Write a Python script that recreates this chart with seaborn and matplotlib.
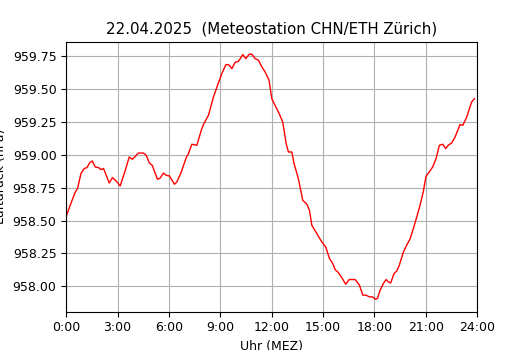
import matplotlib
matplotlib.use("Agg")
import matplotlib.pyplot as plt
import seaborn as sns
import pandas as pd

hours = [0.00, 0.23, 0.53, 0.66, 0.86, 1.05, 1.21, 1.36, 1.52, 1.69, 1.89, 2.03,
         2.18, 2.51, 2.70, 2.92, 3.15, 3.45, 3.68, 3.87, 4.03, 4.22, 4.51, 4.67,
         4.86, 5.02, 5.33, 5.49, 5.68, 5.84, 6.03, 6.32, 6.46, 6.70, 7.01, 7.14,
         7.34, 7.63, 7.92, 8.06, 8.31, 8.60, 8.89, 9.09, 9.33, 9.48, 9.68, 9.87,
         10.06, 10.32, 10.49, 10.69, 10.84, 11.04, 11.23, 11.43, 11.62, 11.85,
         12.01, 12.20, 12.46, 12.65, 12.85, 12.98, 13.18, 13.31, 13.56, 13.82,
         14.06, 14.21, 14.35, 14.64, 14.93, 15.16, 15.38, 15.57, 15.71, 15.90,
         16.10, 16.33, 16.53, 16.88, 17.13, 17.33, 17.52, 17.71, 17.91, 18.04,
         18.18, 18.34, 18.53, 18.69, 18.82, 18.96, 19.15, 19.31, 19.46, 19.70,
         19.89, 20.09, 20.28, 20.48, 20.67, 20.86, 21.02, 21.21, 21.41, 21.61,
         21.80, 22.00, 22.17, 22.32, 22.52, 22.72, 23.01, 23.17, 23.40, 23.59,
         23.69, 23.85]
pressure = [958.533, 958.616, 958.718, 958.744, 958.858, 958.896, 958.903, 958.938,
            958.954, 958.908, 958.903, 958.888, 958.896, 958.786, 958.827, 958.801,
            958.763, 958.883, 958.984, 958.966, 958.989, 959.014, 959.014, 958.997,
            958.938, 958.921, 958.814, 958.824, 958.862, 958.845, 958.839, 958.776,
            958.794, 958.862, 958.979, 959.010, 959.081, 959.073, 959.200, 959.243,
            959.301, 959.441, 959.547, 959.619, 959.687, 959.687, 959.657, 959.705,
            959.712, 959.763, 959.733, 959.766, 959.766, 959.733, 959.720, 959.669,
            959.631, 959.568, 959.428, 959.377, 959.309, 959.250, 959.086, 959.022,
            959.022, 958.934, 958.820, 958.654, 958.624, 958.578, 958.464, 958.401,
            958.337, 958.299, 958.211, 958.173, 958.127, 958.104, 958.066, 958.015,
            958.051, 958.051, 958.008, 957.932, 957.932, 957.919, 957.919, 957.901,
            957.906, 957.970, 958.021, 958.051, 958.033, 958.025, 958.097, 958.116,
            958.160, 958.261, 958.312, 958.360, 958.439, 958.527, 958.616, 958.718,
            958.837, 958.870, 958.908, 958.972, 959.073, 959.081, 959.048, 959.073,
            959.091, 959.136, 959.231, 959.225, 959.288, 959.365, 959.403, 959.428]

tick_hours = [0, 3, 6, 9, 12, 15, 18, 21, 24]
tick_labels = ["0:00", "3:00", "6:00", "9:00", "12:00", "15:00", "18:00", "21:00", "24:00"]
y_ticks = [958.00, 958.25, 958.50, 958.75, 959.00, 959.25, 959.50, 959.75]

title = "22.04.2025  (Meteostation CHN/ETH Zürich)"
xlabel = "Uhr (MEZ)"
ylabel = "Luftdruck (hPa)"

df = pd.DataFrame({"h": hours, "p": pressure})

fig, ax = plt.subplots(figsize=(5.3, 3.5), dpi=100)
sns.lineplot(data=df, x="h", y="p", color="red", linewidth=1, ax=ax)
ax.set_xlim(0, 24)
ax.set_xticks(tick_hours)
ax.set_xticklabels(tick_labels)
ax.set_yticks(y_ticks)
ax.set_yticklabels([f"{v:.2f}" for v in y_ticks])
ax.tick_params(labelsize=9)
ax.grid(True)
ax.set_title(title, fontsize=10.8)
ax.set_xlabel(xlabel, fontsize=9)
ax.set_ylabel(ylabel, fontsize=9)
fig.savefig("out.png", dpi=100)
